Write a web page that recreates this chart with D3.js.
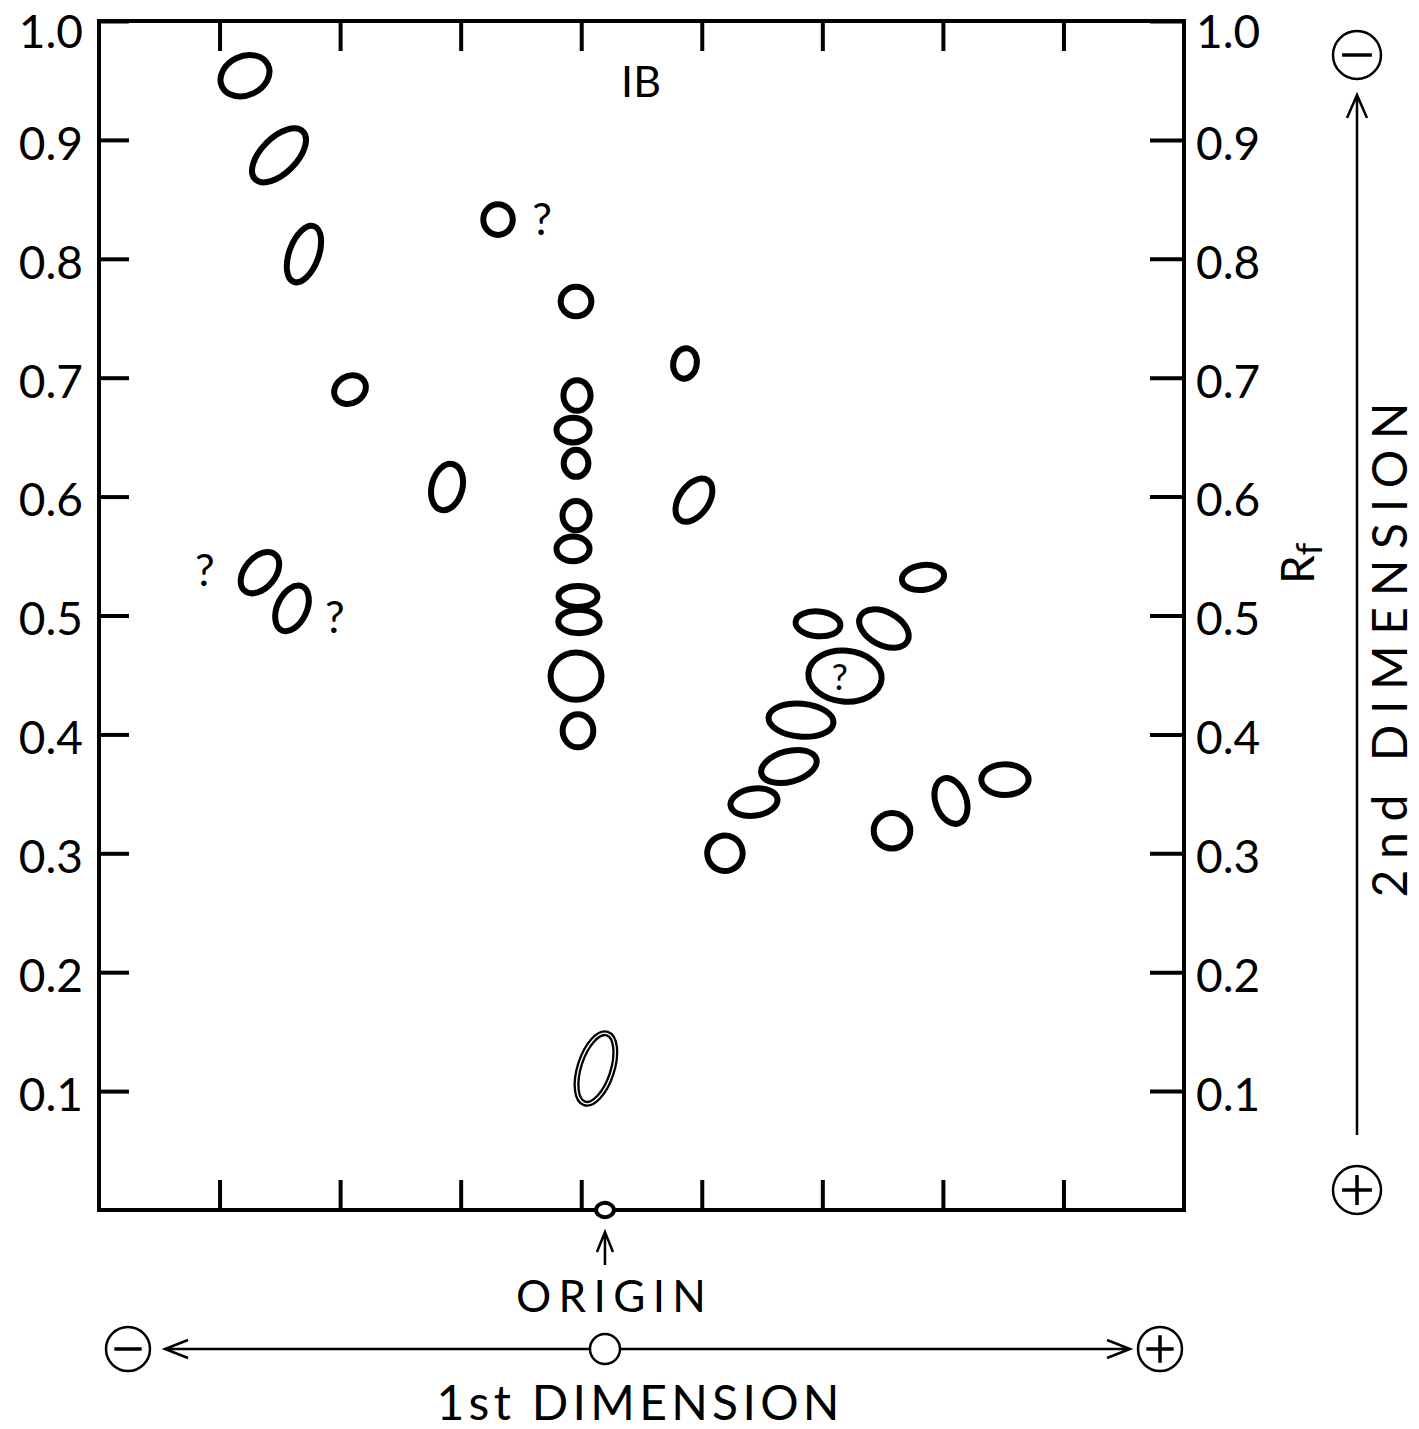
<!DOCTYPE html>
<html><head><meta charset="utf-8">
<script src="https://cdn.jsdelivr.net/npm/d3@7"></script>
<style>
body{margin:0;background:#fff}
svg{display:block;background:#fff}
text{font-family:Lato,"Open Sans","DejaVu Sans",sans-serif;fill:#000}
</style>
</head><body>
<svg id="chart" width="1419" height="1429"></svg>
<script>
// ---------- data ----------
const rfTicks = [0.1,0.2,0.3,0.4,0.5,0.6,0.7,0.8,0.9,1.0];
const dim1Ticks = [1,2,3,4,5,6,7,8];           // unlabeled ticks, 1st dimension
// spot centres: 1st-dimension position (tick units) and Rf (2nd dimension)
const spotX  = [1.211,1.493,1.700,2.082,2.887,1.335,1.601,3.310,3.957,4.861,
                3.965,3.932,3.957,3.957,3.932,3.973,3.981,3.957,3.973,4.935,
                6.835,5.964,6.511,6.188,5.823,5.723,5.433,5.192,6.578,7.067,
                7.515,4.122];
const spotRf = [0.954,0.887,0.804,0.690,0.608,0.536,0.506,0.833,0.764,0.712,
                0.685,0.656,0.628,0.584,0.556,0.516,0.495,0.449,0.403,0.597,
                0.532,0.493,0.489,0.449,0.412,0.373,0.343,0.300,0.319,0.344,
                0.362,0.119];
// spot extents (Rf units) along the spot's own axes, and tilt in degrees
const spotW  = [0.047,0.061,0.029,0.032,0.030,0.030,0.029,0.029,0.030,0.024,
                0.027,0.032,0.025,0.027,0.032,0.037,0.039,0.047,0.030,0.029,
                0.040,0.042,0.049,0.066,0.059,0.052,0.044,0.034,0.035,0.030,
                0.044,0.032];
const spotH  = [0.037,0.034,0.054,0.027,0.044,0.044,0.045,0.030,0.029,0.030,
                0.030,0.025,0.027,0.029,0.025,0.022,0.024,0.044,0.032,0.045,
                0.025,0.025,0.032,0.047,0.032,0.030,0.027,0.034,0.034,0.044,
                0.030,0.066];
const spotTilt = [-25,-45,20,-30,15,40,25,0,0,10,
                  0,0,0,0,0,0,0,0,0,35,
                  -8,5,28,5,5,-15,-8,-20,0,-20,
                  0,18];
const hollowSpot = 31;                // faint, double-outlined spot
// origin of the run
const originX = 4.197, originRf = 0, originW = 0.015, originH = 0.012;
// uncertain spots marked "?"
const queryX  = [0.879,1.957,3.675,6.146];
const queryRf = [0.538,0.499,0.833,0.448];
const queryInSpot = [false,false,false,true];
const plateLabel = "IB", plateLabelX = 4.496, plateLabelRf = 0.949;

// ---------- layout ----------
const L = 99, R = 1184, T = 21, B = 1210;
const svg = d3.select("#chart");

const x = d3.scaleLinear().domain([0, 9]).range([L, R]);
const y = d3.scaleLinear().domain([0, 1]).range([B, T]);
const rfLen = v => y(0) - y(v);

// frame
svg.append("rect").attr("x", L).attr("y", T).attr("width", R - L).attr("height", B - T)
  .attr("fill", "none").attr("stroke", "#000").attr("stroke-width", 4);

function styleAxis(g, fs) {
  g.select(".domain").remove();
  g.selectAll(".tick line").attr("stroke", "#000").attr("stroke-width", 4);
  g.selectAll(".tick text").attr("font-size", fs)
    .attr("dy", d => d === 1 ? "0.58em" : "0.42em")
    .style("font-family", 'Lato,"Open Sans",sans-serif').attr("fill", "#000");
}
const fmt = d3.format(".1f");
svg.append("g").attr("transform", `translate(${L},0)`)
  .call(d3.axisLeft(y).tickValues(rfTicks).tickFormat(fmt).tickSizeInner(-30).tickSizeOuter(0).tickPadding(16))
  .call(g => styleAxis(g, 46));
svg.append("g").attr("transform", `translate(${R},0)`)
  .call(d3.axisRight(y).tickValues(rfTicks).tickFormat(fmt).tickSizeInner(-34).tickSizeOuter(0).tickPadding(12))
  .call(g => styleAxis(g, 46));
svg.append("g").attr("transform", `translate(0,${T})`)
  .call(d3.axisTop(x).tickValues(dim1Ticks).tickFormat("").tickSizeInner(-30).tickSizeOuter(0))
  .call(g => styleAxis(g, 1));
svg.append("g").attr("transform", `translate(0,${B})`)
  .call(d3.axisBottom(x).tickValues(dim1Ticks).tickFormat("").tickSizeInner(-30).tickSizeOuter(0))
  .call(g => styleAxis(g, 1));

// spots
const spots = spotX.map((v, i) => ({x: v, rf: spotRf[i], w: spotW[i], h: spotH[i], t: spotTilt[i], i}));
const SW = 6;
svg.append("g").selectAll("ellipse").data(spots).join("ellipse")
  .attr("transform", d => `translate(${x(d.x)},${y(d.rf)}) rotate(${d.t})`)
  .attr("rx", d => Math.max(1, rfLen(d.w) / 2 - SW / 2 + 0.5))
  .attr("ry", d => Math.max(1, rfLen(d.h) / 2 - SW / 2 + 0.5))
  .attr("fill", "none").attr("stroke", "#000").attr("stroke-width", SW);
// inner highlight on the faint double-outlined spot
{
  const d = spots[hollowSpot];
  svg.append("ellipse")
    .attr("transform", `translate(${x(d.x)},${y(d.rf)}) rotate(${d.t})`)
    .attr("rx", rfLen(d.w) / 2 - SW / 2 + 0.5).attr("ry", rfLen(d.h) / 2 - SW / 2 + 0.5)
    .attr("fill", "none").attr("stroke", "#fff").attr("stroke-width", 1.4);
}
// origin spot
svg.append("ellipse").attr("cx", x(originX)).attr("cy", y(originRf))
  .attr("rx", rfLen(originW) / 2).attr("ry", rfLen(originH) / 2)
  .attr("fill", "#fff").attr("stroke", "#000").attr("stroke-width", 4);

// question marks
svg.append("g").selectAll("text").data(queryX.map((v, i) => ({x: v, rf: queryRf[i], inner: queryInSpot[i]})))
  .join("text")
  .attr("x", d => x(d.x)).attr("y", d => y(d.rf)).attr("dy", "0.36em")
  .attr("text-anchor", "middle").attr("font-size", d => d.inner ? 36 : 44)
  .text("?");

// plate label
svg.append("text").attr("x", x(plateLabelX)).attr("y", y(plateLabelRf)).attr("dy", "0.36em")
  .attr("text-anchor", "middle").attr("font-size", 43).text(plateLabel);

// origin arrow + label
const ox = x(originX);
svg.append("path")
  .attr("d", `M${ox},${B + 55} V${B + 22} M${ox - 8},${B + 42} L${ox},${B + 22} L${ox + 8},${B + 42}`)
  .attr("fill", "none").attr("stroke", "#000").attr("stroke-width", 2.5);
svg.append("text").attr("x", ox + 6).attr("y", 1312).attr("text-anchor", "middle")
  .attr("font-size", 44).attr("textLength", 190).attr("lengthAdjust", "spacing").text("ORIGIN");

// 1st dimension direction arrow
const ay = 1349;
function signCircle(cx, cy, r, plus) {
  svg.append("circle").attr("cx", cx).attr("cy", cy).attr("r", r)
    .attr("fill", "none").attr("stroke", "#000").attr("stroke-width", 2.5);
  let d = `M${cx - r * 0.62},${cy} H${cx + r * 0.62}`;
  if (plus) d += ` M${cx},${cy - r * 0.62} V${cy + r * 0.62}`;
  svg.append("path").attr("d", d).attr("stroke", "#000").attr("stroke-width", 3.5);
}
signCircle(128, ay, 22, false);
signCircle(1160, ay, 22, true);
svg.append("circle").attr("cx", ox).attr("cy", ay).attr("r", 15)
  .attr("fill", "none").attr("stroke", "#000").attr("stroke-width", 2.5);
svg.append("path")
  .attr("d", `M165,${ay} H${ox - 16} M${ox + 16},${ay} H1130 M188,${ay - 9} L165,${ay} L188,${ay + 9} M1107,${ay - 9} L1130,${ay} L1107,${ay + 9}`)
  .attr("fill", "none").attr("stroke", "#000").attr("stroke-width", 2.5);
svg.append("text").attr("x", 638).attr("y", 1420).attr("text-anchor", "middle")
  .attr("font-size", 48).attr("textLength", 403).attr("lengthAdjust", "spacing").text("1st DIMENSION");

// 2nd dimension direction arrow
const vx = 1357;
signCircle(vx, 55, 24, false);
signCircle(vx, 1190, 24, true);
svg.append("path")
  .attr("d", `M${vx},1135 V95 M${vx - 10},118 L${vx},95 L${vx + 10},118`)
  .attr("fill", "none").attr("stroke", "#000").attr("stroke-width", 2.5);
svg.append("text").attr("transform", "translate(1407,650) rotate(-90)")
  .attr("text-anchor", "middle").attr("font-size", 48)
  .attr("textLength", 495).attr("lengthAdjust", "spacing").text("2nd DIMENSION");

// Rf label
const rf = svg.append("text").attr("transform", "translate(1314,584) rotate(-90)")
  .attr("font-size", 46);
rf.append("tspan").text("R");
rf.append("tspan").attr("font-size", 36).attr("dy", 8).text("f");
</script>
</body></html>
